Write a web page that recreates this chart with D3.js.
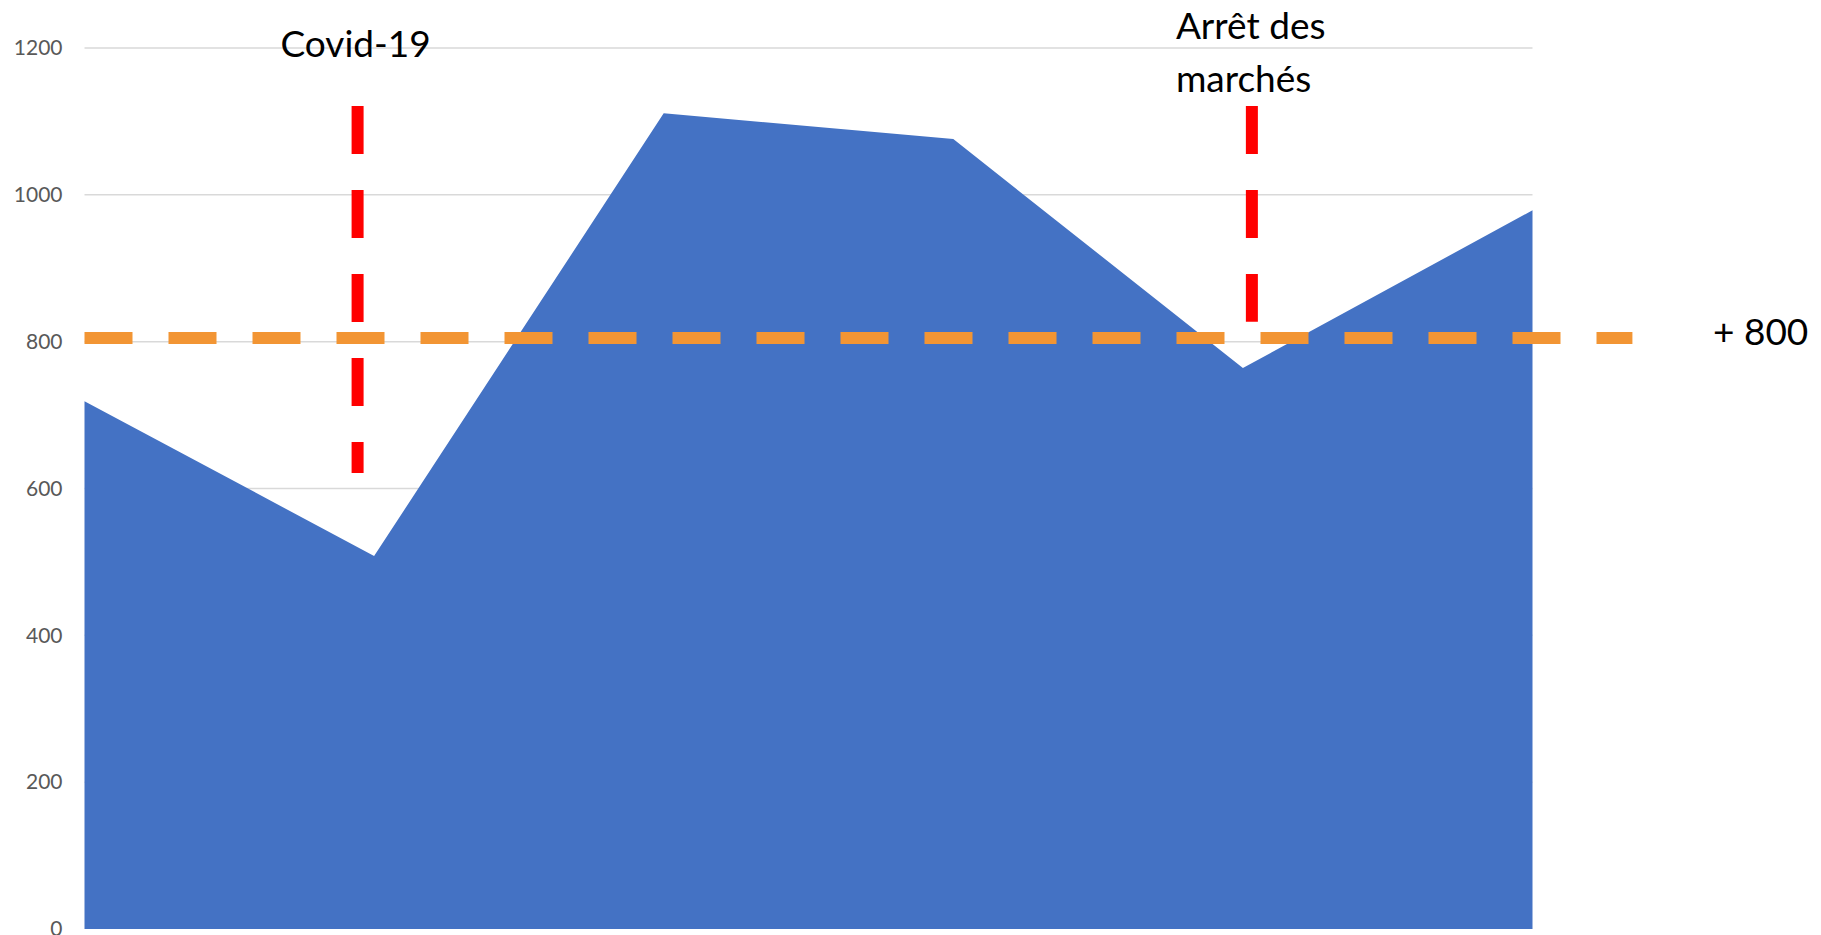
<!DOCTYPE html>
<html>
<head>
<meta charset="utf-8">
<script src="https://cdn.jsdelivr.net/npm/d3@7"></script>
<style>
  html, body { margin: 0; padding: 0; background: #ffffff; }
  svg { display: block; }
</style>
</head>
<body>
<svg id="chart" width="1821" height="935"></svg>
<script>
// ---- data ----
const categories = ["1", "2", "3", "4", "5", "6"];
const values = [719, 508, 1111, 1076, 764, 979];
const yTicks = [0, 200, 400, 600, 800, 1000, 1200];
const thresholdValue = 805;
const thresholdLabel = "+ 800";
const thresholdExtent = [0, 5.345];          // in category-index units
const eventLabels = [["Covid-19"], ["Arrêt des", "marchés"]];
const eventPositions = [0.943, 4.031];       // in category-index units
const eventTop = [1121, 1121];
const eventBottom = [621, 827];

// ---- layout ----
const svg = d3.select("#chart");
const plotLeft = 84.5, plotRight = 1532.5, plotTop = 48, plotBottom = 929;

const x = d3.scaleLinear().domain([0, categories.length - 1]).range([plotLeft, plotRight]);
const y = d3.scaleLinear().domain([0, 1200]).range([plotBottom, plotTop]);

// gridlines
svg.append("g").selectAll("line").data(yTicks.filter(d => d > 0)).join("line")
  .attr("x1", plotLeft).attr("x2", plotRight)
  .attr("y1", d => y(d)).attr("y2", d => y(d))
  .attr("stroke", "#d9d9d9").attr("stroke-width", 1.5);

// y axis labels
const yAxis = d3.axisLeft(y).tickValues(yTicks).tickSize(0).tickPadding(0).tickFormat(d3.format("d"));
const ya = svg.append("g").attr("transform", `translate(${plotLeft - 22},0)`).call(yAxis);
ya.select(".domain").remove();
ya.selectAll("text")
  .attr("fill", "#595959")
  .style("font-family", "Lato, 'Open Sans', sans-serif")
  .style("font-size", "21px");

// area
const area = d3.area()
  .x((d, i) => x(i))
  .y0(y(0))
  .y1(d => y(d));
svg.append("path").datum(values)
  .attr("d", area)
  .attr("fill", "#4472C4");

// threshold dashed line
svg.append("line")
  .attr("x1", x(thresholdExtent[0])).attr("x2", x(thresholdExtent[1]))
  .attr("y1", y(thresholdValue)).attr("y2", y(thresholdValue))
  .attr("stroke", "#F29534").attr("stroke-width", 12)
  .attr("stroke-dasharray", "48 36");

svg.append("text")
  .attr("x", 1713).attr("y", y(thresholdValue) + 7)
  .style("font-family", "Lato, 'Open Sans', sans-serif")
  .style("font-size", "37px")
  .attr("fill", "#000")
  .text(thresholdLabel);

// event lines
eventPositions.forEach((p, i) => {
  svg.append("line")
    .attr("x1", x(p)).attr("x2", x(p))
    .attr("y1", y(eventTop[i])).attr("y2", y(eventBottom[i]))
    .attr("stroke", "#FF0000").attr("stroke-width", 12)
    .attr("stroke-dasharray", "48 36");
  const lines = eventLabels[i];
  const single = lines.length === 1;
  const baseFirst = single ? 57 : 39;
  const t = svg.append("text")
    .attr("text-anchor", single ? "middle" : "start")
    .style("font-family", "Lato, 'Open Sans', sans-serif")
    .style("font-size", "37px")
    .attr("fill", "#000");
  lines.forEach((s, j) => {
    t.append("tspan")
      .attr("x", single ? x(p) - 2 : x(p) - 76)
      .attr("y", baseFirst + j * 52.5)
      .text(s);
  });
});
</script>
</body>
</html>
